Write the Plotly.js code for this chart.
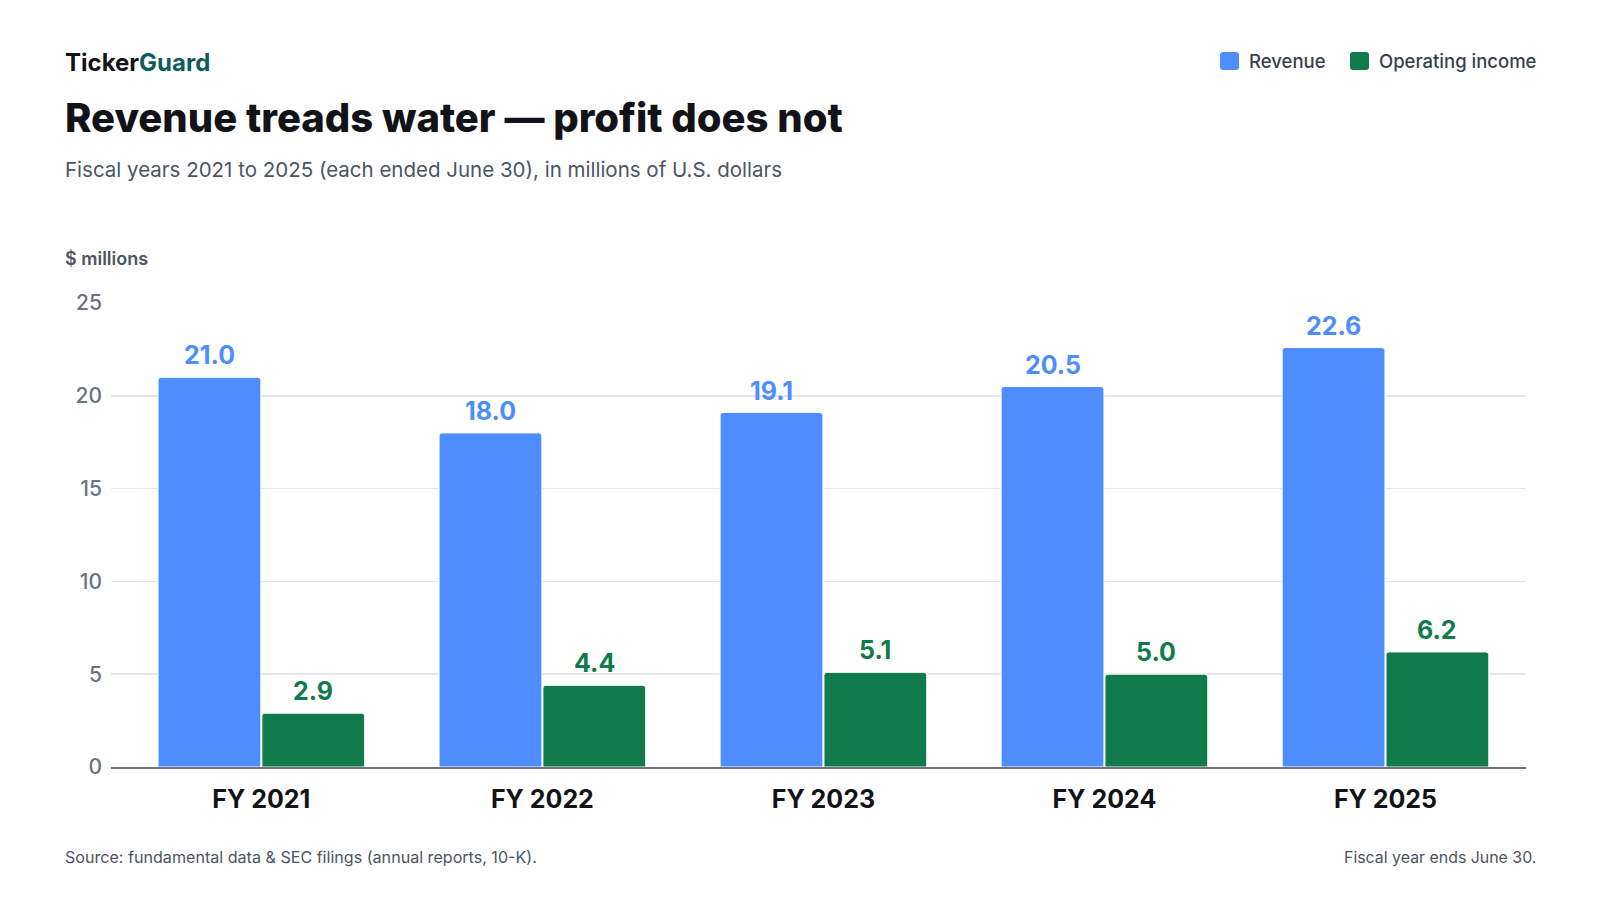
<!DOCTYPE html>
<html>
<head>
<meta charset="utf-8">
<script src="https://cdn.plot.ly/plotly-3.0.1.min.js"></script>
<style>
  html, body { margin: 0; padding: 0; background: #ffffff; }
  #chart { width: 1600px; height: 900px; }
</style>
</head>
<body>
<div id="chart"></div>
<script>
// ---- data ----
const categories = ["FY 2021", "FY 2022", "FY 2023", "FY 2024", "FY 2025"];
const revenue = [21.0, 18.0, 19.1, 20.5, 22.6];
const operatingIncome = [2.9, 4.4, 5.1, 5.0, 6.2];
const yTicks = [0, 5, 10, 15, 20, 25];

// ---- style ----
const BLUE = "#4d8dff";
const GREEN = "#117a4a";
const FONT = "Inter, 'Noto Sans', sans-serif";
const TITLE = "Revenue treads water — profit does not";

const W = 1600, H = 900;
const M = { l: 111, r: 74, t: 303, b: 133 };
const PW = W - M.l - M.r, PH = H - M.t - M.b;
const px = (x) => (x - M.l) / PW;
const py = (y) => (H - M.b - y) / PH;

function roundRect(x0, y0, x1, y1, r) {
  const X = px, Y = py;
  return "M" + X(x0 + r) + "," + Y(y0) +
    " L" + X(x1 - r) + "," + Y(y0) +
    " Q" + X(x1) + "," + Y(y0) + " " + X(x1) + "," + Y(y0 + r) +
    " L" + X(x1) + "," + Y(y1 - r) +
    " Q" + X(x1) + "," + Y(y1) + " " + X(x1 - r) + "," + Y(y1) +
    " L" + X(x0 + r) + "," + Y(y1) +
    " Q" + X(x0) + "," + Y(y1) + " " + X(x0) + "," + Y(y1 - r) +
    " L" + X(x0) + "," + Y(y0 + r) +
    " Q" + X(x0) + "," + Y(y0) + " " + X(x0 + r) + "," + Y(y0) + " Z";
}

const traces = [
  {
    type: "bar", name: "Revenue", x: categories, y: revenue,
    marker: { color: BLUE, line: { color: "#ffffff", width: 1 } }
  },
  {
    type: "bar", name: "Operating income", x: categories, y: operatingIncome,
    marker: { color: GREEN, line: { color: "#ffffff", width: 1 } }
  }
];

const annotations = [];
function textAnn(text, xPix, yPix, opts) {
  annotations.push(Object.assign({
    text: text, xref: "paper", yref: "paper",
    x: px(xPix), y: py(yPix), showarrow: false,
    xanchor: "left", yanchor: "middle"
  }, opts));
}

textAnn('<span style="color:#111318">Ticker</span><span style="color:#0f5c5c">Guard</span>', 63, 62,
  { font: { family: FONT, size: 24, weight: 700 } });
textAnn(TITLE, 63, 118,
  { font: { family: FONT, size: 40, weight: 800, color: "#111318" } });
textAnn("Fiscal years 2021 to 2025 (each ended June 30), in millions of U.S. dollars", 63, 169,
  { font: { family: FONT, size: 20.5, color: "#4b5563" } });
textAnn("$ millions", 63, 258,
  { font: { family: FONT, size: 18, weight: 600, color: "#4b5563" } });
textAnn("Source: fundamental data & SEC filings (annual reports, 10-K).", 63, 857,
  { font: { family: FONT, size: 16.1, color: "#4b5563" } });
textAnn("Fiscal year ends June 30.", 1538, 857,
  { xanchor: "right", font: { family: FONT, size: 15.9, color: "#4b5563" } });

// legend
textAnn("Revenue", 1247, 61, { font: { family: FONT, size: 18.5, weight: 500, color: "#374151" } });
textAnn("Operating income", 1377, 61, { font: { family: FONT, size: 18.5, weight: 500, color: "#374151" } });

const shapes = [
  { type: "path", xref: "paper", yref: "paper", path: roundRect(1220, 52, 1239, 70, 3),
    fillcolor: BLUE, line: { width: 0 } },
  { type: "path", xref: "paper", yref: "paper", path: roundRect(1350, 52, 1369, 70, 3),
    fillcolor: GREEN, line: { width: 0 } }
];

// value labels
const SLOT = 51.9;
categories.forEach((c, i) => {
  annotations.push({
    xref: "x", yref: "y", x: c, y: revenue[i], xshift: -SLOT, yshift: 5,
    text: revenue[i].toFixed(1), showarrow: false, yanchor: "bottom",
    font: { family: FONT, size: 25, weight: 700, color: BLUE }
  });
  annotations.push({
    xref: "x", yref: "y", x: c, y: operatingIncome[i], xshift: SLOT, yshift: 5,
    text: operatingIncome[i].toFixed(1), showarrow: false, yanchor: "bottom",
    font: { family: FONT, size: 25, weight: 700, color: GREEN }
  });
});

const layout = {
  width: W, height: H,
  margin: M,
  paper_bgcolor: "#ffffff", plot_bgcolor: "#ffffff",
  font: { family: FONT },
  showlegend: false,
  barmode: "group",
  bargap: 0.261,
  bargroupgap: 0.01,
  barcornerradius: 3,
  xaxis: {
    type: "category",
    range: [-0.535, 4.5],
    showgrid: false,
    showline: true, linecolor: "#6b7280", linewidth: 2,
    ticks: "", ticklabelstandoff: 9,
    tickfont: { family: FONT, size: 25, weight: 700, color: "#111318" },
    fixedrange: true
  },
  yaxis: {
    range: [0, 25],
    tickvals: yTicks,
    ticktext: yTicks.map(String),
    showgrid: true, gridcolor: "#e6e6e6", gridwidth: 1.5,
    zeroline: false, showline: false,
    ticks: "", ticklabelstandoff: 8,
    tickfont: { family: FONT, size: 21, weight: 500, color: "#6b7280" },
    fixedrange: true
  },
  annotations: annotations,
  shapes: shapes
};

Plotly.newPlot("chart", traces, layout, { displayModeBar: false, staticPlot: true });
</script>
</body>
</html>
